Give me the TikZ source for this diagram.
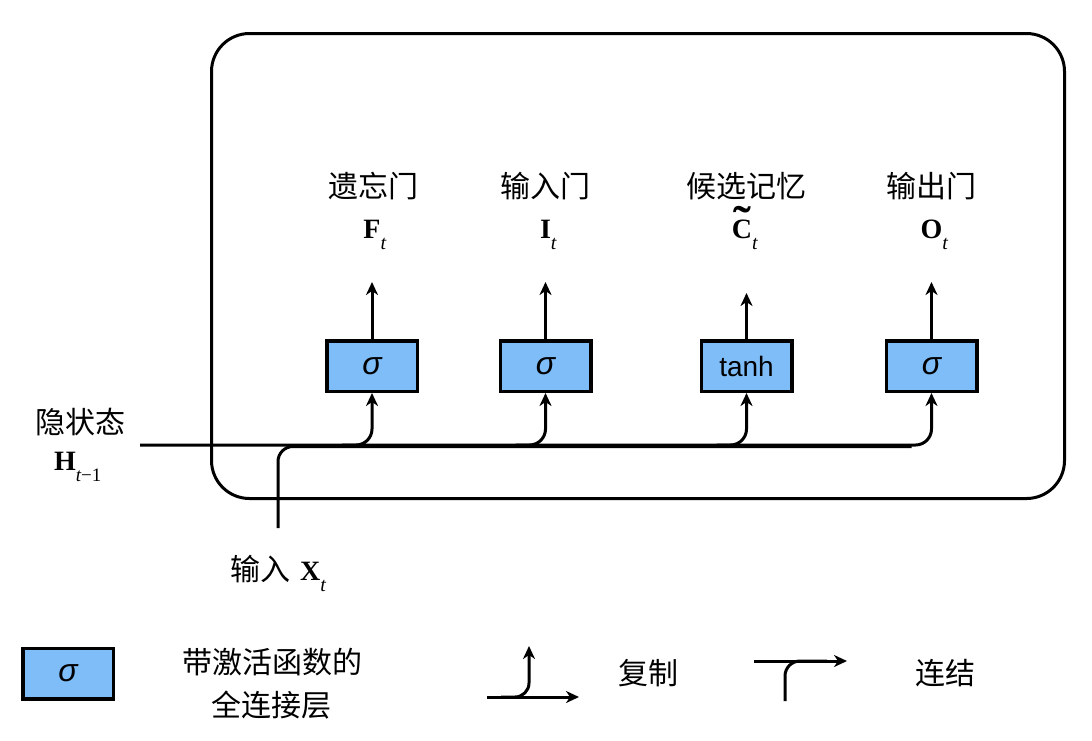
\documentclass[tikz,border=0pt]{standalone}
\usepackage{fontspec}
\usepackage{graphicx}
\setmainfont{Liberation Sans}
\newfontfamily\cjk{Noto Sans CJK SC}
\newfontfamily\tms{Liberation Serif}
\usetikzlibrary{arrows.meta}
\definecolor{gateblue}{RGB}{126,189,248}
\newcommand\subt[1]{\rlap{\raisebox{-11pt}{\tms\fontsize{20}{20}\selectfont\mdseries #1}}}
\newcommand\lbl[2]{{\tms\bfseries #1}\subt{\itshape #2}}
\newcommand\tildeC{{\tms\bfseries\setbox0\hbox{C}\rlap{\hbox to\wd0{\hss\raisebox{1pt}{\scalebox{1.9}[1.6]{˜}}\hss}}C}}
\begin{document}
\begin{tikzpicture}[x=1pt,y=-1pt,
  line/.style={line width=3pt, line cap=butt},
  arr/.style={line width=3pt, -{Stealth[length=13pt,width=12pt,inset=4pt]}},
  gate/.style={draw, line width=3.5pt, fill=gateblue, minimum width=90.5pt, minimum height=50.5pt, inner sep=0pt, font=\fontsize{28}{30}\selectfont},
  sig/.style={font=\fontsize{32}{34}\selectfont\itshape},
  cn/.style={font=\cjk\fontsize{30}{33}\selectfont, inner sep=0pt},
  mth/.style={font=\tms\bfseries\fontsize{28}{30}\selectfont, inner sep=0pt, anchor=base}]
\useasboundingbox (0,0) rectangle (1092,740);
\fill[white] (0,0) rectangle (1092,740);

% cell
\node[draw, line width=3pt, rounded corners=38pt, minimum width=853pt, minimum height=465pt, inner sep=0pt] (cell) at (638,266) {};

% gates
\node[gate, sig] (g1) at (372,366) {σ};
\node[gate, sig] (g2) at (545.5,366) {σ};
\node[gate] (g3) at (746.5,366) {tanh};
\node[gate, sig] (g4) at (931.5,366) {σ};

% outputs
\coordinate (t1) at (372,282);
\coordinate (t2) at (545.5,282);
\coordinate (t3) at (746.5,293);
\coordinate (t4) at (931.5,282);
\draw[arr] (g1.north) -- (t1);
\draw[arr] (g2.north) -- (t2);
\draw[arr] (g3.north) -- (t3);
\draw[arr] (g4.north) -- (t4);

% labels
\node[cn] (c1) at (373,186) {遗忘门};
\node[cn] (c2) at (545.5,186) {输入门};
\node[cn] (c3) at (746,186) {候选记忆};
\node[cn] (c4) at (931.5,186) {输出门};
\node[mth] (m1) at (372,238) {\lbl{F}{t}};
\node[mth] (m2) at (545.5,238) {\lbl{I}{t}};
\node[mth] (m3) at (742,238) {\tildeC\subt{\itshape t}};
\node[mth] (m4) at (931.5,238) {\lbl{O}{t}};

% hidden state input
\node[cn] (hcn) at (80,422) {隐状态};
\node[mth] (hm) at (65,470) {{\tms\bfseries H}\rlap{\raisebox{-11pt}{\tms\fontsize{19}{19}\selectfont\mdseries\itshape t\upshape −1}}};
\coordinate (hs) at (140,445);
\coordinate (hy) at (0,445);
\draw[arr, rounded corners=16pt] (hs) -- (g4.south |- hy) -- (g4.south);
\draw[arr, rounded corners=16pt] ([xshift=-30pt]g1.south |- hy) -- (g1.south |- hy) -- (g1.south);
\draw[arr, rounded corners=16pt] ([xshift=-30pt]g2.south |- hy) -- (g2.south |- hy) -- (g2.south);
\draw[arr, rounded corners=16pt] ([xshift=-30pt]g3.south |- hy) -- (g3.south |- hy) -- (g3.south);

% x input
\coordinate (xs) at (278,528);
\coordinate (xy) at (0,446.5);
\draw[line, rounded corners=15pt] (xs) -- (xs |- xy) -- ([xshift=-20pt]g4.south |- xy);
\node[anchor=base west, inner sep=0pt] (xin) at (230,580) {{\cjk\fontsize{30}{33}\selectfont 输入}\hspace{10pt}{\fontsize{28}{30}\selectfont\lbl{X}{t}}};

% legend
\node[gate, sig] (lg) at (68,673.5) {σ};
\node[cn] (lt1) at (272,662) {带激活函数的};
\node[cn] (lt2) at (271,705) {全连接层};

\coordinate (ca) at (487,697);
\coordinate (cb) at (579,697);
\coordinate (cc) at (501,697);
\coordinate (cd) at (529,646);
\draw[arr] (ca) -- (cb);
\draw[arr, rounded corners=14pt] (cc) -- (cd |- cc) -- (cd);
\node[cn] (lcopy) at (648,673) {复制};

\coordinate (ka) at (754,661);
\coordinate (kb) at (847,661);
\coordinate (kc) at (785,701);
\draw[arr] (ka) -- (kb);
\draw[line, rounded corners=15pt] (kc) -- (kc |- ka) -- ([xshift=-20pt]kb);
\node[cn] (lcat) at (945,673) {连结};
\end{tikzpicture}
\end{document}
